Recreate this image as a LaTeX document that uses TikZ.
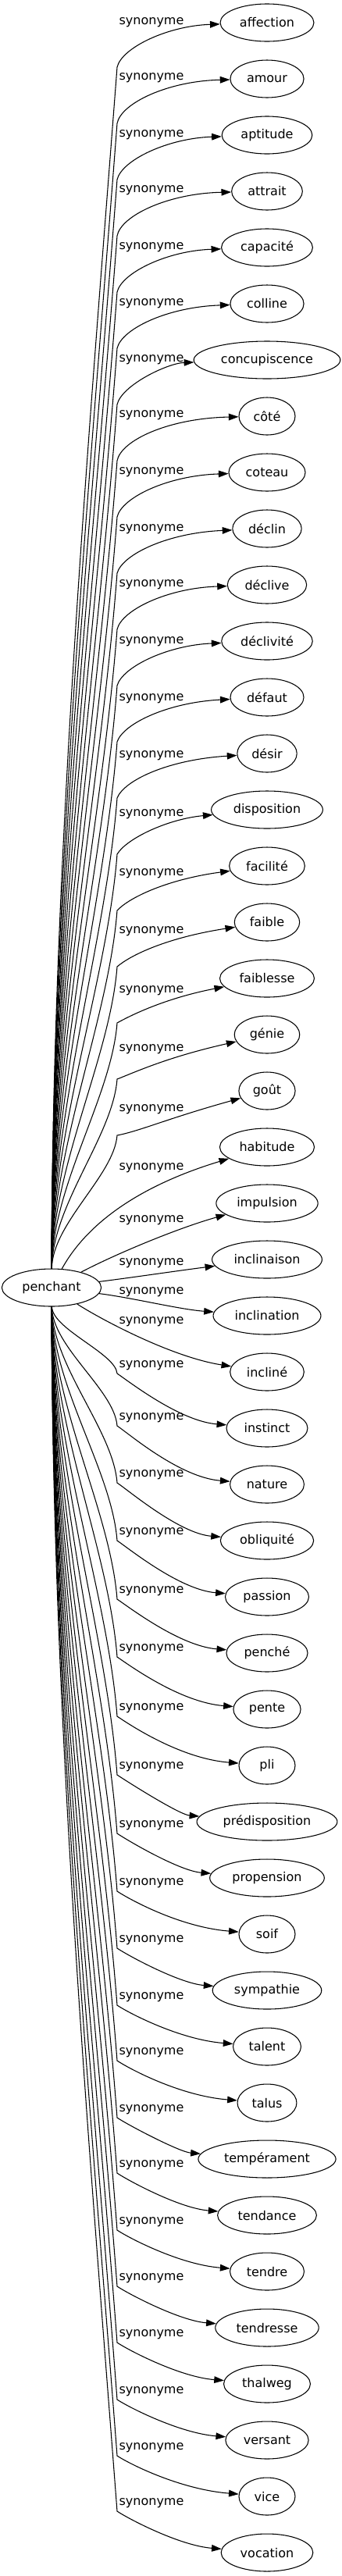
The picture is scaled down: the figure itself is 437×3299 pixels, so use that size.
\documentclass[tikz,border=0pt]{standalone}
\usepackage{fontspec}
\setmainfont{DejaVu Sans}
\usetikzlibrary{arrows.meta,shapes.geometric}
\tikzset{
  syn/.style={draw, ellipse, line width=0.8pt, minimum width=54pt, minimum height=36pt, inner xsep=5.5pt, inner ysep=2pt, font=\fontsize{12}{14}\selectfont},
  synedge/.style={draw, line width=0.8pt, -{Triangle[length=9.5pt,width=6.5pt]}},
  lbl/.style={font=\fontsize{12}{14}\selectfont, inner sep=0pt}
}
\newcommand{\myUp}[3]{%
 \pgfmathsetmacro{\offU}{#3-#2}%
 \pgfmathsetmacro{\kyU}{#2+57}%
 \pgfmathsetmacro{\ddU}{1625-\kyU}%
 \pgfmathsetmacro{\caU}{1625-0.34*\ddU}%
 \pgfmathsetmacro{\cbxU}{150-0.023*\ddU}%
 \pgfmathsetmacro{\cbyU}{\kyU+0.3*\ddU}%
 \pgfmathsetmacro{\ccxU}{156+\offU}%
 \pgfmathsetmacro{\ccyU}{\kyU-25+0.8*\offU}%
 \pgfmathsetmacro{\cdyU}{#2+4+1.3*\offU}%
 \draw[synedge] (pen) .. controls (67,\caU) and (\cbxU,\cbyU) .. (150,\kyU) .. controls (\ccxU,\ccyU) and (215,\cdyU) .. (#1);%
 \node[lbl] (l#1) at (194,#3) {synonyme};%
}
\newcommand{\myLo}[3]{%
 \pgfmathsetmacro{\kyL}{#3+10}%
 \pgfmathsetmacro{\ddL}{\kyL-1673}%
 \pgfmathsetmacro{\caL}{1673+0.34*\ddL}%
 \pgfmathsetmacro{\cbxL}{150-0.023*\ddL}%
 \pgfmathsetmacro{\cbyL}{\kyL-0.3*\ddL}%
 \pgfmathsetmacro{\ccyL}{\kyL+10}%
 \pgfmathsetmacro{\cdyL}{#2-9}%
 \draw[synedge] (pen) .. controls (67,\caL) and (\cbxL,\cbyL) .. (150,\kyL) .. controls (165,\ccyL) and (230,\cdyL) .. (#1);%
 \node[lbl] (l#1) at (194,#3) {synonyme};%
}
\begin{document}
\begin{tikzpicture}[x=0.75pt,y=-0.75pt]
\useasboundingbox (0,0) rectangle (437,3299);
\node[syn] (pen) at (66,1649) {penchant};
\node[syn] (n1) at (342,29) {affection};
\node[syn] (n2) at (342,101) {amour};
\node[syn] (n3) at (342,173) {aptitude};
\node[syn] (n4) at (342,245) {attrait};
\node[syn] (n5) at (342,317) {capacité};
\node[syn] (n6) at (342,389) {colline};
\node[syn] (n7) at (342,461) {concupiscence};
\node[syn] (n8) at (342,533) {côté};
\node[syn] (n9) at (342,605) {coteau};
\node[syn] (n10) at (342,677) {déclin};
\node[syn] (n11) at (342,749) {déclive};
\node[syn] (n12) at (342,821) {déclivité};
\node[syn] (n13) at (342,893) {défaut};
\node[syn] (n14) at (342,965) {désir};
\node[syn] (n15) at (342,1037) {disposition};
\node[syn] (n16) at (342,1109) {facilité};
\node[syn] (n17) at (342,1181) {faible};
\node[syn] (n18) at (342,1253) {faiblesse};
\node[syn] (n19) at (342,1325) {génie};
\node[syn] (n20) at (342,1397) {goût};
\node[syn] (n21) at (342,1469) {habitude};
\node[syn] (n22) at (342,1541) {impulsion};
\node[syn] (n23) at (342,1613) {inclinaison};
\node[syn] (n24) at (342,1685) {inclination};
\node[syn] (n25) at (342,1757) {incliné};
\node[syn] (n26) at (342,1829) {instinct};
\node[syn] (n27) at (342,1901) {nature};
\node[syn] (n28) at (342,1973) {obliquité};
\node[syn] (n29) at (342,2045) {passion};
\node[syn] (n30) at (342,2117) {penché};
\node[syn] (n31) at (342,2189) {pente};
\node[syn] (n32) at (342,2261) {pli};
\node[syn] (n33) at (342,2333) {prédisposition};
\node[syn] (n34) at (342,2405) {propension};
\node[syn] (n35) at (342,2477) {soif};
\node[syn] (n36) at (342,2549) {sympathie};
\node[syn] (n37) at (342,2621) {talent};
\node[syn] (n38) at (342,2693) {talus};
\node[syn] (n39) at (342,2765) {tempérament};
\node[syn] (n40) at (342,2837) {tendance};
\node[syn] (n41) at (342,2909) {tendre};
\node[syn] (n42) at (342,2981) {tendresse};
\node[syn] (n43) at (342,3053) {thalweg};
\node[syn] (n44) at (342,3125) {versant};
\node[syn] (n45) at (342,3197) {vice};
\node[syn] (n46) at (342,3269) {vocation};
\myUp{n1}{29}{29}
\myUp{n2}{101}{100}
\myUp{n3}{173}{173}
\myUp{n4}{245}{244}
\myUp{n5}{317}{317}
\myUp{n6}{389}{389}
\myUp{n7}{461}{461}
\myUp{n8}{533}{532}
\myUp{n9}{605}{605}
\myUp{n10}{677}{678}
\myUp{n11}{749}{749}
\myUp{n12}{821}{822}
\myUp{n13}{893}{895}
\myUp{n14}{965}{968}
\myUp{n15}{1037}{1043}
\myUp{n16}{1109}{1119}
\myUp{n17}{1181}{1193}
\myUp{n18}{1253}{1269}
\myUp{n19}{1325}{1344}
\myUp{n20}{1397}{1421}
\draw[synedge] (pen) .. controls (115,1560) and (190,1515) .. (n21);
\node[lbl] (ln21) at (194,1496) {synonyme};
\draw[synedge] (pen) .. controls (150,1605) and (230,1572) .. (n22);
\node[lbl] (ln22) at (194,1563) {synonyme};
\draw[synedge] (pen) .. controls (170,1636) and (230,1627) .. (n23);
\node[lbl] (ln23) at (194,1618) {synonyme};
\draw[synedge] (pen) .. controls (170,1662) and (230,1677) .. (n24);
\node[lbl] (ln24) at (194,1655) {synonyme};
\draw[synedge] (pen) .. controls (130,1690) and (220,1738) .. (n25);
\node[lbl] (ln25) at (194,1693) {synonyme};
\myLo{n26}{1829}{1749}
\myLo{n27}{1901}{1816}
\myLo{n28}{1973}{1889}
\myLo{n29}{2045}{1963}
\myLo{n30}{2117}{2038}
\myLo{n31}{2189}{2112}
\myLo{n32}{2261}{2188}
\myLo{n33}{2333}{2263}
\myLo{n34}{2405}{2338}
\myLo{n35}{2477}{2412}
\myLo{n36}{2549}{2485}
\myLo{n37}{2621}{2558}
\myLo{n38}{2693}{2629}
\myLo{n39}{2765}{2702}
\myLo{n40}{2837}{2773}
\myLo{n41}{2909}{2846}
\myLo{n42}{2981}{2918}
\myLo{n43}{3053}{2990}
\myLo{n44}{3125}{3063}
\myLo{n45}{3197}{3135}
\myLo{n46}{3269}{3206}
\end{tikzpicture}
\end{document}
